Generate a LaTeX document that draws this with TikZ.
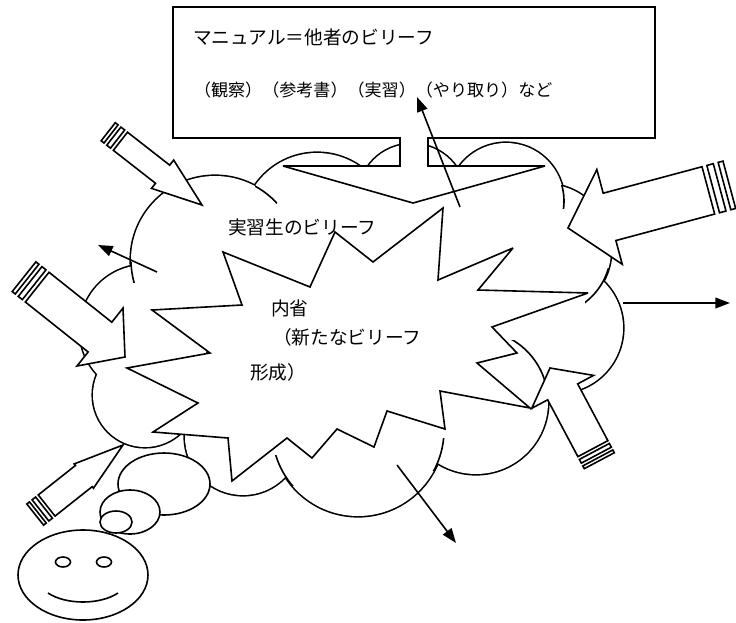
\documentclass[tikz,border=0pt]{standalone}
\usepackage{fontspec}
\newfontfamily\jpfont{Noto Sans CJK JP}
\usetikzlibrary{arrows.meta}

% striped block arrow: tip, angle, length, shaft width, head width, head length
\newcommand{\stripedarrow}[6]{%
  \begin{scope}[shift={#1}, rotate=#2]
    \draw[arrowbody] (0,0) -- (-#6,#5/2) -- (-#6,#4/2) -- ({-0.87*#3},#4/2)
      -- ({-0.87*#3},-#4/2) -- (-#6,-#4/2) -- (-#6,-#5/2) -- cycle;
    \draw[arrowbody] ({-0.90*#3},-#4/2) rectangle ({-0.94*#3},#4/2);
    \draw[arrowbody] ({-0.97*#3},-#4/2) rectangle (-#3,#4/2);
  \end{scope}}

% short inner arc of a cloud lobe: centre, radius, clip corners
\newcommand{\cloudstub}[4]{%
  \begin{scope}
    \clip #3 rectangle #4;
    \draw #1 circle[radius=#2];
  \end{scope}}

\def\lobes{215/260/84, 317/228/75, 412/198/54, 506/201/58, 545/250/66,
  558/328/65, 476/402/72, 358/430/86, 243/437/58, 145/395/52, 145/330/65}

\begin{document}
\begin{tikzpicture}[
    x=0.75pt, y=-0.75pt,
    line width=1.2pt, miter limit=4,
    every node/.style = {inner sep=0pt, outer sep=0pt, anchor=west},
    txt/.style = {font=\jpfont\fontsize{14pt}{16pt}\selectfont},
    txtsmall/.style = {font=\jpfont\fontsize{12.8pt}{15pt}\selectfont},
    arrowbody/.style = {draw, fill=white},
    outline/.style = {draw, fill=white},
    thinarrow/.style = {-{Triangle[length=11pt, width=8pt]}}
]
    \useasboundingbox (0,0) rectangle (736,622);

    % cloud: every lobe outlined (double width, inner half gets covered),
    % then the inside blanked
    \foreach \cx/\cy/\r in \lobes
        \draw[line width=2.4pt] (\cx,\cy) circle[radius=\r];
    \foreach \cx/\cy/\r in \lobes
        \fill[white] (\cx,\cy) circle[radius=\r];
    \fill[white] (400,310) circle[radius=120];
    \cloudstub{(215,260)}{84}{(120,262)}{(145,282)}
    \cloudstub{(215,260)}{84}{(255,180)}{(277,203)}
    \cloudstub{(506,201)}{58}{(548,185)}{(570,208)}
    \cloudstub{(545,250)}{66}{(585,268)}{(615,306)}
    \cloudstub{(476,402)}{72}{(505,340)}{(548,385)}
    \cloudstub{(358,430)}{86}{(432,438)}{(450,470)}
    \cloudstub{(358,430)}{86}{(270,455)}{(295,485)}

    % explosion
    \draw[outline] (152,310) -- (242,305) -- (223,252) -- (310,287) -- (335,232)
        -- (373,262) -- (443,208) -- (438,280) -- (513,248) -- (478,290)
        -- (588,293) -- (492,327) -- (517,353) -- (477,363) -- (530,408)
        -- (440,391) -- (445,429) -- (387,411) -- (374,447) -- (337,429)
        -- (312,458) -- (287,438) -- (232,481) -- (228,438) -- (153,432)
        -- (198,403) -- (127,368) -- (210,353) -- cycle;

    % box with its wedge
    \draw[outline] (173,7) -- (655,7) -- (655,138) -- (428,138) -- (428,166)
        -- (545,166) -- (413,203) -- (283,166) -- (400,166) -- (400,138)
        -- (173,138) -- cycle;

    % striped arrows into the cloud
    \stripedarrow{(202,205)}{-38}{119}{23}{36}{50}
    \stripedarrow{(125,357)}{-38.5}{129}{38}{74}{32}
    \stripedarrow{(568,228)}{-165}{167}{49}{98}{43}
    \stripedarrow{(550,368)}{118}{105}{34}{70}{27}
    \stripedarrow{(123,445)}{38.4}{112}{27}{31}{50}

    % texts
    \node[txt] (manual) at (193,37) {マニュアル＝他者のビリーフ};
    \node[txtsmall] (sources) at (194,90) {（観察）（参考書）（実習）（やり取り）など};
    \node[txt] (own) at (228,227) {実習生のビリーフ};
    \node[txt] (naisei) at (271,308) {内省};
    \node[txt] (newbelief) at (273,337) {（新たなビリーフ};
    \node[txt] (keisei) at (250,372) {形成）};

    % thin arrows out of the cloud
    \coordinate (upFrom) at (460,207);
    \coordinate (upTo) at (417,97);
    \coordinate (leftFrom) at (157,272);
    \coordinate (leftTo) at (98,245);
    \coordinate (rightFrom) at (623,303);
    \coordinate (rightTo) at (730,303);
    \coordinate (downFrom) at (397,465);
    \coordinate (downTo) at (456,543);
    \draw[thinarrow] (upFrom) -- (upTo);
    \draw[thinarrow] (leftFrom) -- (leftTo);
    \draw[thinarrow] (rightFrom) -- (rightTo);
    \draw[thinarrow] (downFrom) -- (downTo);

    % thought bubbles and face
    \draw[outline] (164,484) ellipse[x radius=46, y radius=31];
    \draw[outline] (130,512) ellipse[x radius=30, y radius=22];
    \draw[outline] (116,522) ellipse[x radius=16, y radius=11];
    \draw[outline] (83,575) ellipse[x radius=65, y radius=45];
    \draw (63,562) ellipse[x radius=7.5, y radius=5];
    \draw (104,562) ellipse[x radius=7.5, y radius=5];
    \draw (48,593) .. controls (66,605) and (100,605) .. (118,593);
\end{tikzpicture}
\end{document}
